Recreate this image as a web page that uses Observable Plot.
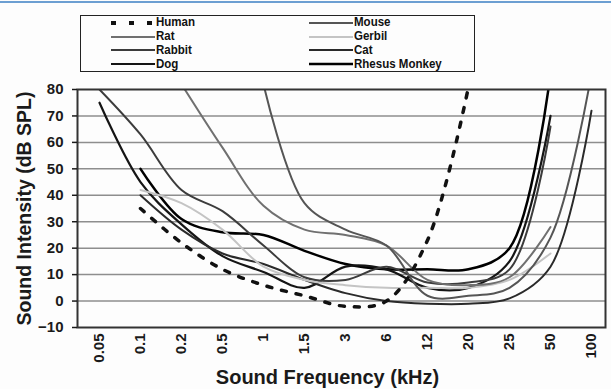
<!DOCTYPE html>
<html><head><meta charset="utf-8">
<script src="https://cdn.jsdelivr.net/npm/d3@7"></script>
<script src="https://cdn.jsdelivr.net/npm/@observablehq/plot@0.6"></script>
<style>
body{margin:0;background:#fff;}
#wrap{position:relative;width:611px;height:389px;overflow:hidden;font-family:"Liberation Sans",Arial,sans-serif;background:#fdfdfd;}
#topline{position:absolute;left:0;top:1px;width:611px;height:2px;background:#6c9fd2;}
#legend{position:absolute;left:80px;top:15px;width:395px;height:57px;border:1.5px solid #222;box-sizing:border-box;}
.item{position:absolute;height:12px;display:flex;align-items:center;font:bold 12px "Liberation Sans Narrow","Arial Narrow","Liberation Sans",sans-serif;line-height:11px;color:#111;white-space:nowrap;}
.item svg{display:block;margin-right:1px;flex:none;}
.item span{display:inline-block;transform:scaleX(0.96);transform-origin:0 50%;}
#chart{position:absolute;left:0;top:0;}
</style></head>
<body><div id="wrap"><div id="topline"></div><div id="legend"></div><div id="chart"></div></div>
<script>
// ---- data ----
const freqLabels = ["0.05","0.1","0.2","0.5","1","1.5","3","6","12","20","25","50","100"];
const seriesNames = ["Human","Mouse","Rat","Gerbil","Rabbit","Cat","Dog","Rhesus Monkey"];
const human  = [null, 35, 22, 12, 6, 2, -2, 0, 23, 81, null, null, null];
const mouse  = [null, null, null, null, 82, 37, 27, 21, 2, 2, 5, 24, 86];
const rat    = [null, null, 82, 58, 36, 27, 25, 21, 8, 6, 9, 28, null];
const gerbil = [null, 42, 37, 27, 13, 8, 6, 5, 5, 5, 8, 18, null];
const rabbit = [80, 63, 42, 34, 21, 9, 8, 13, 7, 7, 12, 66, null];
const cat    = [null, 40, 27, 18, 14, 8, 3, 0, -1, -1, 1, 13, 72];
const dog    = [75, 45, 29, 17, 11, 5, 13, 12, 5, 5, 15, 70, null];
const rhesus = [null, 50, 31, 26, 25, 19, 14, 12, 12, 12, 20, 86, null];
const yTicks = [-10, 0, 10, 20, 30, 40, 50, 60, 70, 80];

const seriesValues = [human, mouse, rat, gerbil, rabbit, cat, dog, rhesus];
// ---- styles ----
const styles = {
  "Human":        {stroke:"#111", strokeWidth:3.5, strokeDasharray:"5,10"},
  "Mouse":        {stroke:"#555", strokeWidth:2},
  "Rat":          {stroke:"#707070", strokeWidth:2},
  "Gerbil":       {stroke:"#c4c4c4", strokeWidth:2},
  "Rabbit":       {stroke:"#3c3c3c", strokeWidth:2},
  "Cat":          {stroke:"#2a2a2a", strokeWidth:2},
  "Dog":          {stroke:"#151515", strokeWidth:2.2},
  "Rhesus Monkey":{stroke:"#000", strokeWidth:2.5}
};

const rows = [];
seriesNames.forEach((name, s) => {
  seriesValues[s].forEach((v, i) => rows.push({series:name, freq:freqLabels[i], db:v}));
});

const lineMarks = seriesNames.slice().reverse().map(name =>
  Plot.line(rows.filter(d => d.series === name), {
    x:"freq", y:"db", curve:"catmull-rom", ...styles[name], clip:true
  })
);

const plot = Plot.plot({
  width:611, height:389,
  marginTop:89, marginBottom:62, marginLeft:77, marginRight:6,
  style:{fontFamily:'"Liberation Sans", Arial, sans-serif', color:"#1a1a1a", background:"transparent"},
  x:{type:"point", domain:freqLabels, range:[97,592], padding:0},
  y:{domain:[-10,80]},
  marks:[
    Plot.gridY(yTicks.filter(v => v > -10 && v < 80), {stroke:"#8e8e8e", strokeOpacity:1, strokeWidth:1.5}),
    ...lineMarks,
    Plot.frame({stroke:"#333", strokeWidth:2}),
    Plot.axisY(yTicks, {tickSize:5, tickPadding:9, fontSize:15, fontWeight:"bold", label:null, strokeWidth:1.5}),
    Plot.axisX({tickRotate:-90, tickSize:0, tickPadding:6, fontSize:15, fontWeight:"bold", label:null}),
    Plot.text(["Sound Intensity (dB SPL)"], {frameAnchor:"left", textAnchor:"middle", lineAnchor:"middle", rotate:-90, dx:-53, fontSize:19.5, fontWeight:"bold"}),
    Plot.text(["Sound Frequency (kHz)"], {frameAnchor:"bottom", textAnchor:"middle", lineAnchor:"middle", dy:50, dx:-14, fontSize:20, fontWeight:"bold"})
  ]
});
document.getElementById("chart").appendChild(plot);

// ---- legend ----
const legend = document.getElementById("legend");
const order = [["Human","Rat","Rabbit","Dog"],["Mouse","Gerbil","Cat","Rhesus Monkey"]];
const colX = [29, 227];
const rowY = [0.8, 14.6, 28.4, 42.2];
order.forEach((col, c) => col.forEach((name, r) => {
  const st = styles[name];
  const div = document.createElement("div");
  div.className = "item";
  div.style.left = colX[c] + "px";
  div.style.top = rowY[r] + "px";
  const ns = "http://www.w3.org/2000/svg";
  const svg = document.createElementNS(ns, "svg");
  svg.setAttribute("width", 45); svg.setAttribute("height", 8);
  const ln = document.createElementNS(ns, "line");
  ln.setAttribute("x1", 1); ln.setAttribute("x2", 45); ln.setAttribute("y1", 4); ln.setAttribute("y2", 4);
  ln.setAttribute("stroke", st.stroke);
  ln.setAttribute("stroke-width", name === "Human" ? 4 : st.strokeWidth);
  if (st.strokeDasharray) ln.setAttribute("stroke-dasharray", "5,13");
  svg.appendChild(ln);
  div.appendChild(svg);
  const t = document.createElement("span");
  t.textContent = name;
  div.appendChild(t);
  legend.appendChild(div);
}));
</script></body></html>
